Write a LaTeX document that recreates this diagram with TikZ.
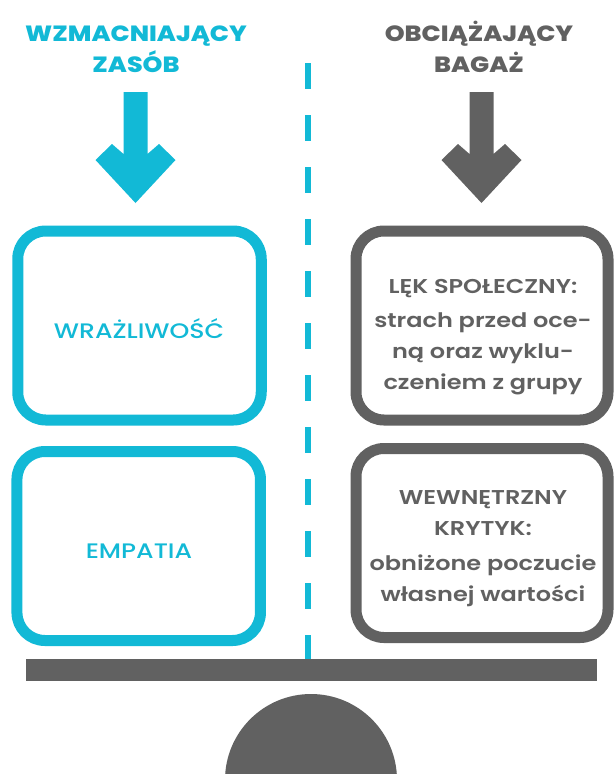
\documentclass[tikz,border=0pt]{standalone}
\usepackage{fontspec}
\setmainfont{Poppins}[UprightFont=* Medium, BoldFont=* SemiBold, FakeStretch=1.2]
\newfontfamily\headfont{Poppins}[UprightFont=* ExtraBold, FakeStretch=1.15]
\usetikzlibrary{positioning}

\definecolor{zasob}{HTML}{12B9D6}
\definecolor{bagaz}{HTML}{616161}

\begin{document}
\begin{tikzpicture}[
  x=1pt, y=-1pt,
  head/.style={font=\headfont\fontsize{22}{31}\selectfont, align=center, inner sep=0pt, anchor=base},
  card/.style={draw, line width=11pt, rounded corners=28pt, minimum width=#1, minimum height=189pt, inner sep=0pt},
  cardtext/.style={font=\fontsize{21}{31}\selectfont, align=center, inner sep=0pt, anchor=base},
  cardnote/.style={cardtext, font=\bfseries\fontsize{20}{31}\selectfont},
  divider/.style={draw=zasob, line width=5.3pt, dash pattern=on 26pt off 26pt}
]
  \useasboundingbox (0,0) rectangle (614,774);
  \clip (0,0) rectangle (614,774);

  % Headings
  \node[head, text=zasob] (zasobhead) at (136,72) {WZMACNIAJĄCY\\ZASÓB};
  \node[head, text=bagaz] (bagazhead) at (479,72) {OBCIĄŻAJĄCY\\BAGAŻ};

  % Arrows
  \fill[zasob] (123.5,92) -- (147.5,92) -- (147.5,154) -- (159,144) -- (175.5,160) -- (135.5,203)
    -- (95.5,160) -- (112,144) -- (123.5,154) -- cycle;
  \fill[bagaz] (469.5,92) -- (493.5,92) -- (493.5,154) -- (505,144) -- (521.5,160) -- (481.5,203)
    -- (441.5,160) -- (458,144) -- (469.5,154) -- cycle;

  % Cards
  \node[card=243.5pt, draw=zasob] (wraz) at (139.5,325.5) {};
  \node[card=243.5pt, draw=zasob] (emp) at (138.7,546) {};
  \node[card=252pt, draw=bagaz] (lek) at (482,325.5) {};
  \node[card=252pt, draw=bagaz] (kryt) at (482,543) {};

  % Card texts
  \node[cardtext, text=zasob] (wrazt) at (139,338.5) {WRAŻLIWOŚĆ};
  \node[cardtext, text=zasob] (empt) at (139,558) {EMPATIA};
  \node[cardnote, text=bagaz] (lekt) at (483,389)
    {LĘK SPOŁECZNY:\\[3pt]strach przed oce-\\ną oraz wyklu-\\czeniem z grupy};
  \node[cardnote, text=bagaz] (krytt) at (483,601)
    {WEWNĘTRZNY\\KRYTYK:\\[4pt]obniżone poczucie\\własnej wartości};

  % Balance
  \node[fill=bagaz, minimum width=571pt, minimum height=21.5pt, inner sep=0pt] (beam) at (311.3,670) {};
  \node[circle, fill=bagaz, minimum size=172pt, inner sep=0pt] (fulcrum) at (311,780) {};
  \coordinate (divtop) at (308,63);
  \draw[divider] (divtop) -- (divtop |- beam.north);
\end{tikzpicture}
\end{document}
